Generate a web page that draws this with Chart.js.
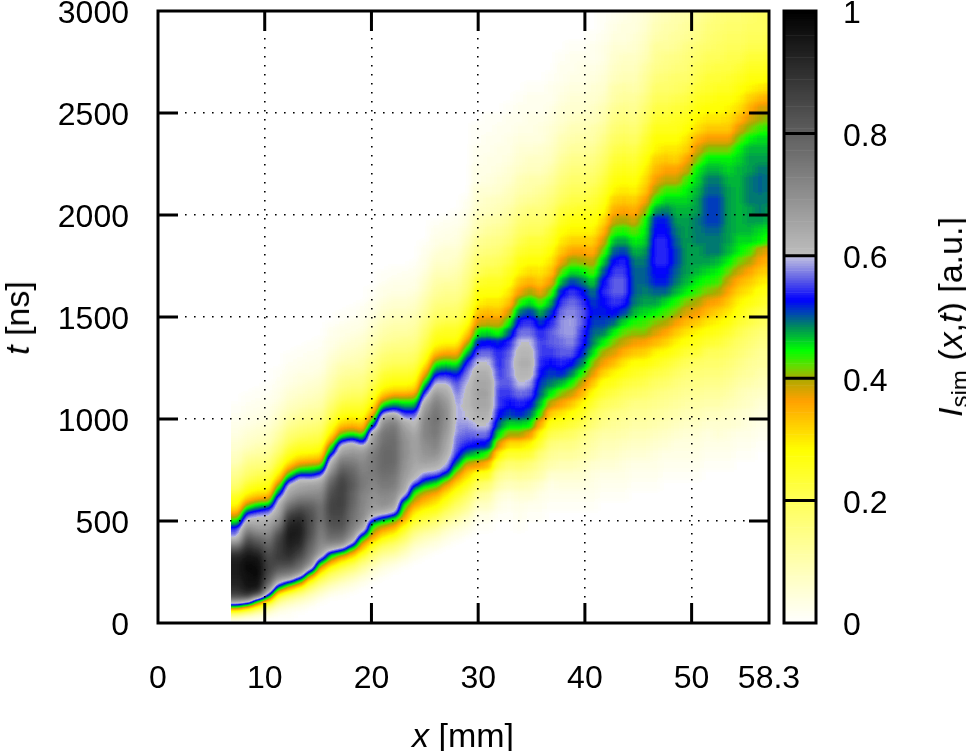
<!DOCTYPE html>
<html>
<head>
<meta charset="utf-8">
<title>I_sim(x,t)</title>
<script src="https://cdn.jsdelivr.net/npm/chart.js@4/dist/chart.umd.js"></script>
<style>
  html, body { margin: 0; padding: 0; background: #fff; overflow: hidden; }
  #wrap { position: relative; width: 966px; height: 751px; font-family: "Liberation Sans", Arial, sans-serif; color: #000; }
  canvas { position: absolute; left: 0; top: 0; }
  #heatClip { position: absolute; left: 0; top: 0; width: 966px; height: 751px; clip-path: inset(11px 197px 128px 231.4px); }
  #heat { background: #000; filter: url(#soft); }
  .title { position: absolute; font-size: 34px; white-space: nowrap; line-height: 1; }
  .title sub { font-size: 24px; vertical-align: -6px; line-height: 0; }
  #xTitle { left: 463px; top: 718px; transform: translateX(-50%); }
  #tTitle { left: 17px; top: 318px; transform: translate(-50%, -50%) rotate(-90deg); }
  #iTitle { left: 950px; top: 317px; transform: translate(-50%, -50%) rotate(-90deg); }
</style>
</head>
<body>
<svg width="0" height="0" style="position:absolute">
  <filter id="soft" x="0" y="0" width="100%" height="100%" color-interpolation-filters="sRGB">
    <feGaussianBlur stdDeviation="3.5 2.5"/>
    <feComponentTransfer>
      <feFuncR id="tableR" type="table"/>
      <feFuncG id="tableG" type="table"/>
      <feFuncB id="tableB" type="table"/>
    </feComponentTransfer>
  </filter>
</svg>
<div id="wrap">
  <div id="heatClip"><canvas id="heat" width="966" height="751"></canvas></div>
  <canvas id="axes" width="966" height="751"></canvas>
  <canvas id="cbar" width="966" height="751"></canvas>
  <div class="title" id="xTitle"><i>x</i> [mm]</div>
  <div class="title" id="tTitle"><i>t</i> [ns]</div>
  <div class="title" id="iTitle"><i>I</i><sub>sim</sub> (<i>x</i>,<i>t</i>) [a.u.]</div>
</div>
<script>
// axis ticks, the last x tick sits on the right frame and is labelled 58.3 in the original
const xTicks = [0, 10, 20, 30, 40, 50, 57.25];
const xTickLabels = ['0', '10', '20', '30', '40', '50', '58.3'];
const tTicks = [0, 500, 1000, 1500, 2000, 2500, 3000];
const iTicks = [0, 0.2, 0.4, 0.6, 0.8, 1];

// palette of the colour bar
const paletteStops = [0, 0.1, 0.2, 0.283, 0.33, 0.364, 0.4, 0.42, 0.446, 0.484, 0.51, 0.528, 0.56, 0.598, 0.6, 1];
const paletteColors = [[255,255,255],[255,255,175],[255,255,90],[255,255,0],[255,200,0],[255,160,0],[170,170,0],[100,220,0],[0,255,0],[0,140,90],[0,60,190],[0,0,255],[90,90,230],[190,190,225],[190,190,190],[0,0,0]];

// intensity in percent, one list per column, t rising from columnStart
const columnX = [7.35,8.33,9.31,10.29,11.27,12.25,13.23,14.21,15.19,16.17,17.15,18.13,19.11,20.09,21.07,22.05,23.03,24.01,24.99,25.97,26.95,27.93,28.91,29.89,30.87,31.85,32.83,33.81,34.79,35.77,36.75,37.73,38.71,39.69,40.67,41.65,42.63,43.61,44.59,45.57,46.55,47.53,48.51,49.49,50.47,51.45,52.43,53.41,54.39,55.37,56.35,57.33];
const columnStart = [0,0,0,0,0,25,50,75,100,125,125,150,175,200,225,250,275,300,325,350,375,400,425,450,450,500,500,450,500,500,550,550,550,550,550,600,600,600,650,650,650,700,700,700,700,750,750,750,800,800,850,850];
const columnStep = [25,25,25,25,25,25,25,25,25,25,25,25,25,25,25,25,25,25,25,25,25,25,25,50,50,50,50,50,50,50,50,50,50,50,50,50,50,50,50,50,50,50,50,50,50,50,50,50,50,50,50,50];

const c07 = [2,12,31,50,72,85,90,92,93,94,94,94,93,90,82,72,62,57,55,48,42,36,31,28,26,23,19,17,15,13,11,9,8,7,6,5,4,3,3,2,2,1,1];
const c08 = [1,8,25,44,68,88,94,96,97,97,98,98,97,95,92,88,83,77,71,65,60,54,46,39,33,29,26,23,20,18,16,14,12,10,8,7,6,5,4,3,3,2,2,1,1];
const c09 = [1,5,16,33,48,78,92,96,97,98,98,97,96,93,89,84,79,73,68,64,61,57,50,43,36,31,28,25,22,20,17,15,13,11,10,8,7,6,5,4,3,3,2,2,1,1];
const c10 = [0,3,9,19,36,52,68,76,81,84,86,86,85,83,81,78,75,71,68,65,62,58,53,44,37,32,28,26,23,21,18,16,14,12,11,9,8,7,6,5,4,3,3,2,2,1,1];
const c11 = [0,1,4,9,16,27,40,54,66,74,80,84,87,88,88,88,86,83,78,73,69,66,64,62,58,51,45,38,33,29,26,23,21,18,16,14,12,11,9,8,7,6,5,4,3,3,2,2,1,1];
const c12 = [1,2,6,11,19,32,43,60,72,78,84,88,91,93,94,95,95,94,92,89,85,79,74,69,66,63,58,49,42,36,31,28,25,23,20,18,16,14,12,11,9,8,7,6,5,4,3,3,2,2,1,1];
const c13 = [1,4,8,14,23,36,48,64,74,78,82,86,89,92,93,94,94,93,91,88,84,78,74,69,66,63,58,49,42,36,31,28,25,23,20,18,16,14,12,11,9,8,7,6,5,4,4,3,2,2,1,1];
const c14 = [2,5,9,15,22,31,42,58,69,73,76,78,80,82,83,84,84,84,83,81,78,74,70,67,64,57,49,43,37,32,28,26,23,21,19,17,15,13,12,10,9,8,7,6,5,4,3,3,2,2,1,1];
const c15 = [2,5,9,14,20,27,34,42,54,65,69,71,72,73,74,75,76,76,76,75,73,71,68,65,60,52,45,38,33,29,27,24,22,20,18,16,14,13,11,10,9,8,7,6,5,4,3,3,2,2,1,1];
const c16 = [2,5,9,14,19,25,32,40,47,62,71,76,79,81,83,84,85,86,86,85,84,82,79,76,71,67,63,58,50,45,38,33,29,27,24,22,20,18,16,14,13,11,10,9,8,7,6,5,4,3,3,2,2,1];
const c17 = [1,3,6,10,15,20,26,33,42,56,69,75,78,81,83,84,85,86,87,87,87,87,86,85,82,79,75,71,66,63,56,46,40,35,31,28,25,23,21,19,17,15,14,12,11,10,8,7,6,5,4,3,3,2,1,1];
const c18 = [2,4,7,11,16,21,28,35,43,57,66,70,73,75,76,77,78,79,80,80,81,81,80,79,77,74,71,68,65,60,49,42,36,32,29,26,24,22,20,18,16,15,13,12,10,9,8,7,6,5,4,3,3,2,1,1];
const c19 = [2,4,7,11,15,20,26,32,37,43,54,64,68,70,71,71,72,72,73,74,74,74,73,72,71,69,67,63,53,46,39,34,31,28,26,24,22,20,18,16,15,14,12,11,10,9,8,7,6,5,4,3,3,2,2,1];
const c20 = [2,4,6,10,14,18,23,28,34,38,42,45,57,64,67,68,69,70,71,72,73,74,74,74,74,73,71,69,67,63,52,46,39,34,31,28,26,24,22,20,18,17,15,14,12,11,10,9,8,7,6,5,4,3,3,2,1,1];
const c21 = [2,3,6,9,13,17,22,27,32,37,42,50,61,67,70,71,72,74,75,76,77,78,78,78,78,78,77,76,75,72,69,64,55,47,41,35,31,28,26,24,22,20,18,17,15,14,12,11,10,9,8,7,6,5,4,3,3,2,1,1];
const c22 = [2,4,7,11,15,19,24,29,34,39,45,57,64,68,70,71,73,74,75,76,77,78,78,78,78,78,77,76,75,72,67,58,50,45,38,33,29,27,25,23,21,19,18,16,15,13,12,11,10,9,8,7,6,5,4,3,3,2,1,1];
const c23 = [2,4,7,10,14,18,22,26,31,36,39,42,45,54,62,65,66,67,68,69,69,70,70,70,70,69,68,66,63,57,53,48,44,38,33,29,27,25,23,21,19,18,16,15,14,12,11,10,9,8,7,6,5,4,3,3,2,2,1];
const c24 = [2,3,5,8,11,14,18,22,26,29,33,37,40,43,49,56,61,63,64,65,65,66,66,66,65,64,62,60,57,53,48,44,39,34,30,28,26,24,22,20,19,17,16,14,13,12,11,10,9,8,7,6,5,4,3,3,2,2,1];
const c25 = [2,3,6,8,11,15,19,23,26,29,33,36,39,43,49,54,59,63,66,68,69,70,71,72,72,72,72,71,69,67,63,59,54,49,44,39,35,31,28,26,24,22,21,19,18,16,15,13,12,11,10,9,8,7,6,5,4,3,3,2,2,1];
const c26 = [2,4,6,9,12,16,20,24,27,30,33,37,41,46,52,58,62,65,68,70,72,73,74,75,75,76,76,75,74,72,70,66,62,58,54,50,46,41,36,32,29,27,26,24,22,20,19,17,16,14,13,12,11,10,9,8,7,6,5,4,3,3,2,2,1];
const c27 = [2,3,5,8,11,15,18,22,25,28,31,35,39,46,53,58,60,62,64,65,66,67,68,69,69,70,70,69,68,66,64,61,58,55,51,47,43,38,34,30,28,26,25,23,21,19,18,16,15,14,13,12,10,9,8,7,6,6,5,4,3,3,2,2,1];
const c28 = [2,3,5,8,11,14,17,20,23,26,29,32,36,40,45,50,53,55,56,57,57,58,58,59,59,59,59,58,58,57,56,55,53,50,46,42,37,34,30,28,26,25,23,21,19,18,17,15,14,13,12,11,10,9,8,7,6,5,4,4,3,3,2,2,1];
const c29 = [2,3,5,7,10,13,15,18,21,24,27,30,33,36,40,45,50,53,55,56,57,58,59,60,60,61,61,61,61,60,59,58,57,55,53,49,45,41,37,33,30,28,26,24,23,21,20,18,17,16,15,14,13,12,11,10,9,8,7,6,5,4,4,3,2,2,1];
const c30 = [1,3,7,12,19,26,37,46,53,57,60,63,65,66,65,63,60,56,52,45,38,33,29,27,24,20,18,15,13,10,9,7,6,5,3,3,2,2,1,1];
const c31 = [1,3,7,11,17,25,34,43,52,57,60,63,65,66,65,63,60,57,53,46,39,34,30,27,25,22,19,16,14,12,10,8,7,5,4,3,3,2,2,1,1];
const c32 = [1,3,5,10,14,21,29,38,45,50,53,55,55,56,55,54,54,52,44,38,33,30,27,25,22,20,17,15,13,11,9,8,6,5,4,3,3,2,2,1];
const c33 = [1,2,4,8,12,17,24,31,40,46,51,53,55,56,57,57,56,54,50,44,38,33,30,27,25,22,20,17,15,13,11,9,8,6,5,4,3,3,2,2,1];
const c34 = [1,2,3,5,9,13,18,24,31,40,46,52,54,57,60,62,63,62,60,57,54,49,43,37,33,29,27,24,21,19,17,14,12,10,9,7,6,5,4,3,2,2,1];
const c35 = [1,2,5,8,12,16,23,29,37,45,50,53,56,59,62,63,62,60,57,55,51,46,40,35,31,28,25,23,20,18,16,13,11,10,8,7,5,4,3,3,2,2,1];
const c36 = [1,2,3,6,10,13,17,23,28,35,43,47,50,51,53,54,55,55,54,51,47,42,37,33,30,28,25,23,20,18,16,14,12,10,8,7,6,4,4,3,2,2,1];
const c37 = [1,2,3,6,10,13,16,21,26,32,39,45,49,51,53,55,56,56,54,51,47,42,37,33,30,28,25,23,20,18,16,14,12,10,8,7,6,5,4,3,2,2,1];
const c38 = [1,2,4,6,9,12,15,20,25,30,36,41,47,52,54,56,57,58,58,57,55,52,47,42,37,33,30,28,25,23,20,18,16,14,12,10,9,7,6,5,4,3,2,2,1];
const c39 = [1,2,4,6,9,12,15,19,23,28,33,39,44,49,53,56,58,59,59,58,57,55,51,46,41,36,32,29,27,24,22,20,18,16,14,12,10,9,7,6,5,4,3,2,2,1];
const c40 = [1,2,4,6,8,11,13,16,21,25,29,34,39,44,49,52,54,55,56,56,55,53,49,45,40,36,32,29,27,25,22,20,18,16,14,12,11,9,8,6,5,4,3,3,2,1];
const c41 = [1,2,3,4,6,9,11,13,17,20,24,28,33,38,41,46,49,50,51,52,51,49,46,42,39,35,32,29,27,25,23,21,19,17,15,13,11,10,8,7,6,5,4,3,2,2,1];
const c42 = [1,2,3,5,7,9,11,14,17,20,24,27,32,37,40,45,49,51,52,53,54,53,50,46,42,38,34,31,28,26,24,22,20,18,16,14,12,10,9,7,6,5,4,3,3,2,1,1];
const c43 = [1,2,3,5,7,9,11,13,15,19,22,26,29,34,38,41,45,50,53,55,56,56,55,53,50,47,43,39,35,32,29,27,25,23,21,19,17,15,13,11,10,8,7,6,5,4,3,2];
const c44 = [1,2,3,4,6,8,10,12,14,17,20,23,27,30,35,39,42,46,51,54,56,56,55,54,51,48,44,40,36,33,30,28,26,24,22,20,18,16,14,12,11,9,8,7,5,4,4,3];
const c45 = [1,2,3,5,7,9,11,13,15,19,22,25,28,33,37,41,44,47,49,50,50,50,49,47,45,42,38,35,32,29,27,25,23,21,19,17,15,13,12,10,9,8,7,6,5,4,4,3];
const c46 = [1,2,3,5,7,9,11,13,15,18,21,24,28,32,36,41,43,46,48,49,50,50,49,48,46,45,44,40,36,33,31,29,27,25,23,21,19,17,15,13,12,11,9,8,7,6,5,5];
const c47 = [1,2,3,4,6,8,10,12,14,16,19,22,26,29,34,38,41,45,48,50,52,53,54,54,54,53,52,48,44,40,37,34,32,29,28,26,24,22,20,18,16,14,13,12,10,9,8,7];
const c48 = [1,2,3,5,7,9,11,13,15,18,21,24,28,32,36,40,43,46,50,52,53,54,54,54,53,52,49,46,43,39,36,33,30,28,26,24,22,20,18,17,15,14,12,11,10,9,8];
const c49 = [1,2,3,4,6,8,10,12,14,16,19,22,26,29,33,37,41,44,47,49,50,51,51,50,49,48,47,46,43,39,36,32,30,28,26,25,23,21,19,18,16,15,13,12,11,10,9];
const c50 = [1,2,3,4,5,7,9,11,13,15,17,20,23,27,30,34,38,41,45,47,48,48,48,48,48,48,47,46,45,43,39,36,32,30,28,26,24,22,20,18,17,16,15,13,12,11,10,9];
const c51 = [1,2,3,4,5,7,9,11,13,15,17,19,23,26,29,33,37,40,43,45,47,48,48,49,49,49,48,48,47,46,45,41,38,35,31,29,27,25,23,21,20,18,17,15,14,13,12];
const c52 = [1,2,3,4,6,8,10,12,14,16,18,20,24,27,30,34,37,41,44,46,48,49,49,50,51,51,51,50,49,47,45,41,37,33,30,28,26,24,23,21,20,18,17,16,15,14];
const c53 = [1,2,3,5,6,8,10,12,14,16,18,20,23,26,29,32,36,40,43,45,47,49,49,50,51,51,51,50,49,47,45,41,37,33,30,28,27,25,23,22,20,19,18,17,16,15];
const c54 = [1,2,3,4,6,7,9,11,13,15,17,19,21,24,27,30,33,36,39,42,45,47,48,48,48,48,48,48,47,46,45,41,37,33,31,29,27,25,24,22,21,20,19,18,17,16];
const c55 = [1,2,3,5,6,8,9,11,13,15,17,19,21,24,27,29,32,35,39,42,45,46,47,47,47,47,47,47,47,46,45,42,38,34,31,29,27,25,23,21,20,19,18,17,17];
const c56 = [1,2,3,4,5,7,8,10,12,13,15,17,19,22,24,27,30,33,36,40,43,46,47,48,48,49,49,49,48,48,47,45,41,38,35,32,29,27,25,23,21,20,19,18,18];
const c57 = [1,2,3,4,5,7,9,10,12,13,15,17,20,22,25,27,30,33,36,39,45,46,48,49,49,50,50,49,48,47,46,43,40,38,34,30,27,25,23,21,20,19,19,18];
const c58 = [1,2,3,4,5,7,8,10,12,13,15,17,19,21,23,26,29,32,34,37,43,45,47,48,49,49,49,49,48,47,46,44,41,38,35,31,28,26,24,22,21,20,20,19];
const columns = [c07,c08,c09,c10,c11,c12,c13,c14,c15,c16,c17,c18,c19,c20,c21,c22,c23,c24,c25,c26,c27,c28,c29,c30,c31,c32,c33,c34,c35,c36,c37,c38,c39,c40,c41,c42,c43,c44,c45,c46,c47,c48,c49,c50,c51,c52,c53,c54,c55,c56,c57,c58];

function rgbFor(v) {
  let i = 0;
  while (i < paletteStops.length - 2 && v > paletteStops[i + 1]) i++;
  const f = Math.min(1, (v - paletteStops[i]) / (paletteStops[i + 1] - paletteStops[i]));
  const a = paletteColors[i], b = paletteColors[i + 1];
  return a.map((c, k) => Math.round(c + (b[k] - c) * f));
}
const colorFor = v => 'rgb(' + rgbFor(v).join(',') + ')';

// the heat canvas holds the intensity as grey, the svg filter softens it and maps it to the palette
const filterTable = [];
for (let k = 0; k < 256; k++) filterTable.push(rgbFor(k / 255));
['tableR', 'tableG', 'tableB'].forEach((id, c) => {
  document.getElementById(id).setAttribute('tableValues', filterTable.map(rgb => (rgb[c] / 255).toFixed(3)).join(' '));
});
const greyFor = v => { const g = Math.round(v * 2.55); return 'rgb(' + g + ',' + g + ',' + g + ')'; };

// frame and the inward gnuplot style ticks
const frameTicks = {
  id: 'frameTicks',
  afterDraw(chart, args, opts) {
    const ctx = chart.ctx, a = chart.chartArea;
    ctx.save();
    ctx.strokeStyle = '#000';
    ctx.lineWidth = 3;
    ctx.beginPath();
    (opts.y || []).forEach(v => {
      const p = chart.scales.y.getPixelForValue(v);
      ctx.moveTo(a.left, p); ctx.lineTo(a.left + opts.len, p);
      ctx.moveTo(a.right, p); ctx.lineTo(a.right - opts.len, p);
    });
    (opts.x || []).forEach(v => {
      const p = chart.scales.x.getPixelForValue(v);
      ctx.moveTo(p, a.bottom); ctx.lineTo(p, a.bottom - opts.len);
      ctx.moveTo(p, a.top); ctx.lineTo(p, a.top + opts.len);
    });
    ctx.stroke();
    ctx.strokeRect(a.left, a.top, a.right - a.left, a.bottom - a.top);
    ctx.restore();
  }
};

const tickFont = { family: '"Liberation Sans", Arial, sans-serif', size: 32 };
Chart.defaults.font.family = tickFont.family;
Chart.defaults.color = '#000';

// keeps tick labels from pushing the plot area inward
function fixedLeftAxis(scale) { scale.width = 158; scale.paddingTop = 0; scale.paddingBottom = 0; }
function fixedRightAxis(scale) { scale.width = 150; scale.paddingTop = 0; scale.paddingBottom = 0; }
function fixedBottomAxis(scale) { scale.height = 128; scale.paddingLeft = 0; scale.paddingRight = 0; }

// the first list is repeated left of x = 7 so the clipped edge stays sharp
const heatX = [6.37].concat(columnX);
const heatStart = [0].concat(columnStart);
const heatStep = [25].concat(columnStep);
const heatColumns = [c07].concat(columns);

new Chart(document.getElementById('heat'), {
  type: 'bar',
  data: {
    datasets: heatColumns.map((values, i) => ({
      data: values.map((v, j) => ({
        x: heatX[i],
        y: [heatStart[i] + j * heatStep[i], heatStart[i] + (j + 1) * heatStep[i]]
      })),
      backgroundColor: values.map(greyFor),
      barThickness: 11,
      grouped: false,
      borderWidth: 0,
      clip: 12
    }))
  },
  options: {
    responsive: false,
    animation: false,
    events: [],
    layout: { padding: { left: 158, right: 197, top: 11, bottom: 128 } },
    plugins: { legend: { display: false }, tooltip: { enabled: false } },
    scales: {
      x: { type: 'linear', offset: false, min: 0, max: 57.25, display: false },
      y: { min: 0, max: 3000, display: false }
    }
  }
});

new Chart(document.getElementById('axes'), {
  type: 'bar',
  data: { datasets: [] },
  options: {
    responsive: false,
    animation: false,
    events: [],
    layout: { padding: { top: 11, right: 197 } },
    plugins: {
      legend: { display: false },
      tooltip: { enabled: false },
      frameTicks: { x: [10, 20, 30, 40, 50], y: [500, 1000, 1500, 2000, 2500], len: 20 }
    },
    scales: {
      x: {
        type: 'linear', offset: false, min: 0, max: 57.25,
        afterBuildTicks: scale => { scale.ticks = xTicks.map(value => ({ value })); },
        afterFit: fixedBottomAxis,
        ticks: { font: tickFont, color: '#000', padding: 37, maxRotation: 0, autoSkip: false, callback: (v, i) => xTickLabels[i] },
        grid: { offset: false, color: '#000', lineWidth: 1.6, drawTicks: false },
        border: { display: false, dash: [1.6, 7.4] }
      },
      y: {
        min: 0, max: 3000,
        afterBuildTicks: scale => { scale.ticks = tTicks.map(value => ({ value })); },
        afterFit: fixedLeftAxis,
        ticks: { font: tickFont, color: '#000', padding: 29, labelOffset: 3.5, callback: v => String(v) },
        grid: { color: '#000', lineWidth: 1.6, drawTicks: false },
        border: { display: false, dash: [1.6, 7.4] }
      }
    }
  },
  plugins: [frameTicks]
});

// colour bar: thin floating bars over the 0..1 axis
const barLevels = [];
for (let v = 0; v < 1; v += 0.004) barLevels.push(v);

new Chart(document.getElementById('cbar'), {
  type: 'bar',
  data: {
    datasets: [{
      data: barLevels.map(v => ({ x: 0.5, y: [v, v + 0.004] })),
      backgroundColor: barLevels.map(v => colorFor(v + 0.002)),
      barThickness: 33,
      grouped: false,
      borderWidth: 0
    }]
  },
  options: {
    responsive: false,
    animation: false,
    events: [],
    layout: { padding: { left: 784, top: 11, bottom: 128 } },
    plugins: {
      legend: { display: false },
      tooltip: { enabled: false },
      frameTicks: { y: [0.2, 0.4, 0.6, 0.8], len: 18 }
    },
    scales: {
      x: { type: 'linear', offset: false, min: 0, max: 1, display: false },
      y: {
        position: 'right', min: 0, max: 1,
        afterBuildTicks: scale => { scale.ticks = iTicks.map(value => ({ value })); },
        afterFit: fixedRightAxis,
        ticks: { font: tickFont, color: '#000', padding: 19, labelOffset: 3.5, callback: v => String(v) },
        grid: { display: false },
        border: { display: false }
      }
    }
  },
  plugins: [frameTicks]
});
</script>
</body>
</html>
